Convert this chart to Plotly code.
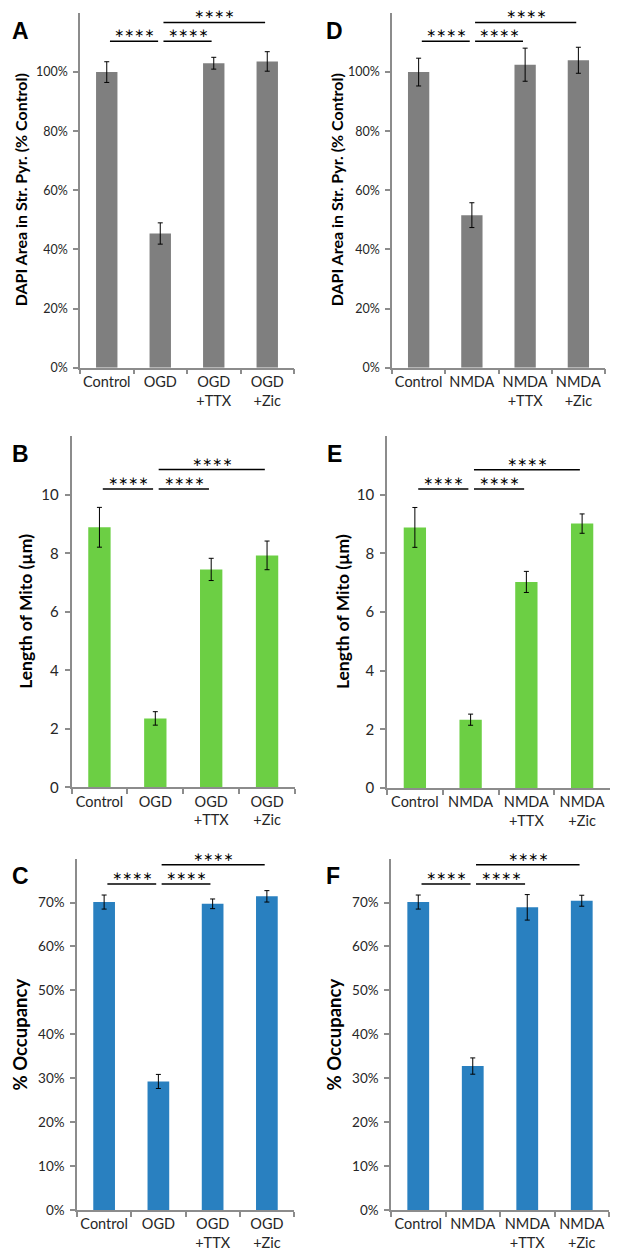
import plotly.graph_objects as go

W, H = 625, 1252

# ---------------- data ----------------
cats_ogd = ["Control", "OGD", "OGD<br>+TTX", "OGD<br>+Zic"]
cats_nmda = ["Control", "NMDA", "NMDA<br>+TTX", "NMDA<br>+Zic"]

dapi_ogd = [100.0, 45.4, 103.0, 103.6]
dapi_ogd_err = [3.5, 3.6, 2.0, 3.3]
dapi_nmda = [100.0, 51.6, 102.5, 104.0]
dapi_nmda_err = [4.7, 4.2, 5.6, 4.4]

mito_ogd = [8.89, 2.36, 7.45, 7.93]
mito_ogd_err = [0.68, 0.23, 0.38, 0.49]
mito_nmda = [8.89, 2.33, 7.03, 9.02]
mito_nmda_err = [0.68, 0.19, 0.36, 0.33]

occ_ogd = [70.1, 29.3, 69.7, 71.4]
occ_ogd_err = [1.6, 1.6, 1.1, 1.3]
occ_nmda = [70.1, 32.8, 68.9, 70.4]
occ_nmda_err = [1.6, 1.85, 2.9, 1.25]

dapi_ticks = [0, 20, 40, 60, 80, 100]
dapi_ticktext = ["0%", "20%", "40%", "60%", "80%", "100%"]
mito_ticks = [0, 2, 4, 6, 8, 10]
mito_ticktext = ["0", "2", "4", "6", "8", "10"]
occ_ticks = [0, 10, 20, 30, 40, 50, 60, 70]
occ_ticktext = ["0%", "10%", "20%", "30%", "40%", "50%", "60%", "70%"]

sig_pairs = [(0, 1), (1, 2), (1, 3)]
sig_text = "\u2217\u2217\u2217\u2217"

GRAY = "#7f7f7f"
GREEN = "#6ccf44"
BLUE = "#2980c0"
AXIS = "#8c8c8c"
TXT = "#262626"
FONT = "Lato"


def px_x(p):
    return p / W


def px_y(p):
    return 1 - p / H


panels = [
    dict(letter="A", cats=cats_ogd, vals=dapi_ogd, err=dapi_ogd_err, color=GRAY,
         xd=(72, 286), yd=(5, 362), rng=[0, 120], tv=dapi_ticks, tt=dapi_ticktext, tfs=12.5,
         title="DAPI Area in Str. Pyr. (% Control)", tsize=16, tx=12,
         levels=(110.4, 116.8), lab=(2, 23)),
    dict(letter="D", cats=cats_nmda, vals=dapi_nmda, err=dapi_nmda_err, color=GRAY,
         xd=(384, 597), yd=(5, 362), rng=[0, 120], tv=dapi_ticks, tt=dapi_ticktext, tfs=12.5,
         title="DAPI Area in Str. Pyr. (% Control)", tsize=16, tx=328,
         levels=(110.4, 116.8), lab=(316, 23)),
    dict(letter="B", cats=cats_ogd, vals=mito_ogd, err=mito_ogd_err, color=GREEN,
         xd=(63.5, 287), yd=(431, 784.5), rng=[0, 12], tv=mito_ticks, tt=mito_ticktext, tfs=15,
         title="Length of Mito (µm)", tsize=17.5, tx=18,
         levels=(10.2, 10.86), lab=(2, 449)),
    dict(letter="E", cats=cats_nmda, vals=mito_nmda, err=mito_nmda_err, color=GREEN,
         xd=(379, 602), yd=(431, 785), rng=[0, 12], tv=mito_ticks, tt=mito_ticktext, tfs=15,
         title="Length of Mito (µm)", tsize=17.5, tx=334,
         levels=(10.2, 10.86), lab=(317, 449)),
    dict(letter="C", cats=cats_ogd, vals=occ_ogd, err=occ_ogd_err, color=BLUE,
         xd=(69, 286), yd=(856, 1210), rng=[0, 80], tv=occ_ticks, tt=occ_ticktext, tfs=13.5,
         title="% Occupancy", tsize=18.5, tx=12,
         levels=(74.2, 78.6), lab=(2, 874)),
    dict(letter="F", cats=cats_nmda, vals=occ_nmda, err=occ_nmda_err, color=BLUE,
         xd=(383, 601), yd=(856, 1210), rng=[0, 80], tv=occ_ticks, tt=occ_ticktext, tfs=13.5,
         title="% Occupancy", tsize=18.5, tx=326,
         levels=(74.2, 78.6), lab=(316, 874)),
]

fig = go.Figure()
layout = dict(width=W, height=H, margin=dict(l=0, r=0, t=0, b=0),
              paper_bgcolor="white", plot_bgcolor="white", showlegend=False,
              font=dict(family=FONT, color=TXT))
shapes, annotations = [], []

for k, p in enumerate(panels, start=1):
    xa = "x" if k == 1 else f"x{k}"
    ya = "y" if k == 1 else f"y{k}"
    xkey = "xaxis" if k == 1 else f"xaxis{k}"
    ykey = "yaxis" if k == 1 else f"yaxis{k}"
    fig.add_trace(go.Bar(
        x=p["cats"], y=p["vals"], xaxis=xa, yaxis=ya, width=0.4,
        marker=dict(color=p["color"], line=dict(width=0)),
        error_y=dict(type="data", array=p["err"], color="black", thickness=1, width=2.5),
    ))
    layout[xkey] = dict(domain=[px_x(p["xd"][0]), px_x(p["xd"][1])], anchor=ya,
                        type="category", range=[-0.5, 3.5], showline=True,
                        linecolor=AXIS, linewidth=1.5, ticks="outside", tickson="boundaries",
                        ticklen=5, tickcolor=AXIS, tickwidth=1.5, showgrid=False, tickangle=0,
                        tickfont=dict(size=14.5, family=FONT, color=TXT), fixedrange=True)
    layout[ykey] = dict(domain=[px_y(p["yd"][1]), px_y(p["yd"][0])], anchor=xa,
                        range=p["rng"], tickmode="array", tickvals=p["tv"], ticktext=p["tt"],
                        showline=True, linecolor=AXIS, linewidth=1.5, showgrid=False,
                        zeroline=False, ticks="outside", ticklen=5, tickcolor=AXIS,
                        tickwidth=1.5, ticklabelstandoff=3,
                        tickfont=dict(size=p["tfs"], family=FONT, color=TXT), fixedrange=True)
    # significance brackets
    lo, hi = p["levels"]
    for (i, j), lvl in zip(sig_pairs, (lo, lo, hi)):
        x0, x1 = i + 0.06, j - 0.04
        shapes.append(dict(type="line", xref=xa, yref=ya, x0=x0, x1=x1, y0=lvl, y1=lvl,
                           line=dict(color="black", width=1.5)))
        annotations.append(dict(xref=xa, yref=ya, x=(x0 + x1) / 2, y=lvl, text=sig_text,
                                showarrow=False, yanchor="middle", yshift=8,
                                font=dict(size=12, family="DejaVu Sans", color="black")))
    # y-axis title
    ymid = (p["yd"][0] + p["yd"][1]) / 2
    annotations.append(dict(xref="paper", yref="paper", x=px_x(p["tx"]), y=px_y(ymid),
                            text=f"<b>{p['title']}</b>", textangle=-90, showarrow=False,
                            xanchor="center", yanchor="middle",
                            font=dict(size=p["tsize"], family=FONT, color="black")))
    # panel letter
    annotations.append(dict(xref="paper", yref="paper", x=px_x(p["lab"][0]), y=px_y(p["lab"][1]),
                            text=f"<b>{p['letter']}</b>", showarrow=False,
                            xanchor="left", yanchor="middle",
                            font=dict(size=23, family="Liberation Sans", color="black")))

layout["shapes"] = shapes
layout["annotations"] = annotations
fig.update_layout(**layout)
fig.write_html("out.html")
